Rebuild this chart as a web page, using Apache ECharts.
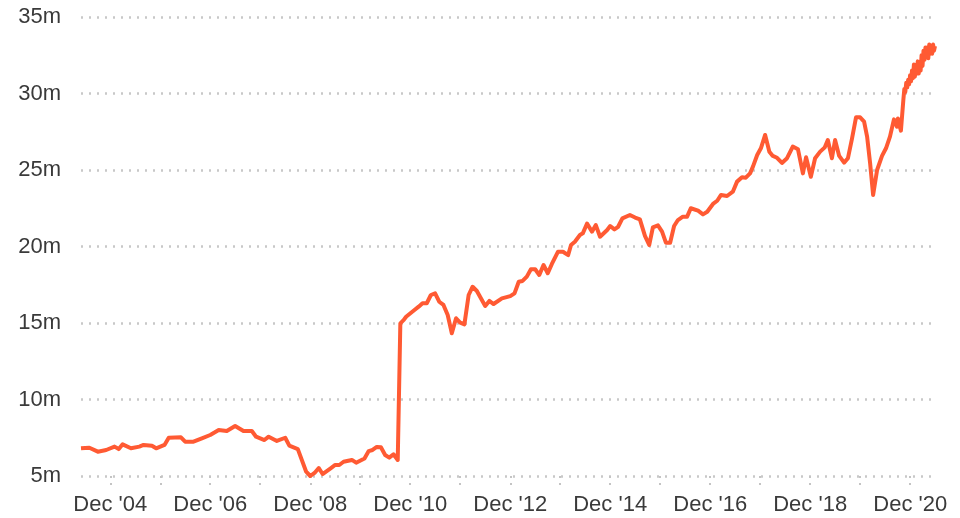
<!DOCTYPE html>
<html>
<head>
<meta charset="utf-8">
<script src="https://cdn.jsdelivr.net/npm/echarts@6/dist/echarts.min.js"></script>
<style>
  html, body { margin: 0; padding: 0; background: #fff; }
  #main { width: 960px; height: 518px; }
</style>
</head>
<body>
<div id="main"></div>
<script>
// dates of each reading (monthly, denser near the end)
var dates = [
  '2004-05-01','2004-07-01','2004-09-01','2004-11-01','2005-01-01','2005-02-01','2005-03-01','2005-05-01',
  '2005-07-01','2005-08-01','2005-10-01','2005-11-01','2006-01-01','2006-02-01','2006-05-01','2006-06-01',
  '2006-08-01','2006-10-01','2006-12-01','2007-02-01','2007-04-01','2007-06-01','2007-08-01','2007-10-01',
  '2007-11-01','2008-01-01','2008-02-01','2008-04-01','2008-06-01','2008-07-01','2008-09-01','2008-11-01',
  '2008-12-01','2009-01-01','2009-02-01','2009-03-01','2009-05-01','2009-06-01','2009-07-01','2009-08-01',
  '2009-10-01','2009-11-01','2010-01-01','2010-02-01','2010-03-01','2010-04-01','2010-05-01','2010-06-01',
  '2010-07-01','2010-08-01','2010-09-01','2010-09-20','2010-10-15','2010-11-01','2011-01-01','2011-02-01',
  '2011-03-01','2011-04-01','2011-05-01','2011-06-01','2011-07-01','2011-08-01','2011-09-01','2011-10-01',
  '2011-11-01','2011-12-01','2012-01-01','2012-02-01','2012-03-01','2012-04-01','2012-06-01','2012-07-01',
  '2012-08-01','2012-10-01','2012-12-01','2013-01-01','2013-02-01','2013-03-01','2013-04-01','2013-05-01',
  '2013-06-01','2013-07-01','2013-08-01','2013-09-01','2013-10-01','2013-11-15','2013-12-21','2014-01-28',
  '2014-02-18','2014-03-18','2014-04-24','2014-05-15','2014-06-15','2014-07-21','2014-08-18','2014-09-18',
  '2014-11-09','2014-12-01','2015-01-01','2015-01-28','2015-02-28','2015-04-24','2015-06-01','2015-07-06',
  '2015-08-12','2015-09-12','2015-10-09','2015-11-15','2015-12-15','2016-01-12','2016-02-12','2016-03-12',
  '2016-04-09','2016-05-15','2016-06-15','2016-07-12','2016-09-03','2016-10-09','2016-11-09','2016-12-21',
  '2017-01-21','2017-02-18','2017-04-03','2017-05-15','2017-06-15','2017-07-21','2017-08-18','2017-09-18',
  '2017-10-09','2017-11-09','2017-12-06','2018-01-06','2018-02-06','2018-03-03','2018-04-03','2018-05-09',
  '2018-06-15','2018-07-27','2018-09-03','2018-10-09','2018-11-01','2018-12-06','2019-01-06','2019-02-12',
  '2019-03-18','2019-04-09','2019-05-09','2019-06-01','2019-07-01','2019-08-06','2019-09-03','2019-10-03',
  '2019-11-01','2019-12-01','2019-12-30','2020-01-21','2020-02-12','2020-03-05','2020-04-03','2020-05-09',
  '2020-06-07','2020-07-06','2020-08-04','2020-08-26','2020-09-02','2020-09-24','2020-10-08',
  '2020-10-12','2020-10-19','2020-10-26','2020-11-02','2020-11-09','2020-11-16','2020-11-23','2020-11-30',
  '2020-12-07','2020-12-14','2020-12-21','2020-12-28','2021-01-04','2021-01-11','2021-01-18','2021-01-25',
  '2021-02-01','2021-02-08','2021-02-15','2021-02-22','2021-03-01','2021-03-08','2021-03-15','2021-03-22',
  '2021-03-29','2021-04-05','2021-04-12','2021-04-19','2021-04-26','2021-05-03','2021-05-10','2021-05-17',
  '2021-05-24','2021-05-31'
];

// values in millions
var values = [
  6.81, 6.85, 6.59, 6.70, 6.92, 6.76, 7.07, 6.81,
  6.92, 7.03, 6.98, 6.81, 7.03, 7.50, 7.53, 7.24,
  7.24, 7.46, 7.68, 8.00, 7.94, 8.27, 7.94, 7.94,
  7.57, 7.35, 7.57, 7.29, 7.50, 6.98, 6.76, 5.28,
  5.00, 5.20, 5.52, 5.13, 5.52, 5.72, 5.72, 5.93,
  6.05, 5.87, 6.15, 6.63, 6.70, 6.90, 6.88, 6.37,
  6.20, 6.42, 6.05, 14.98, 15.20, 15.41, 15.85, 16.07,
  16.29, 16.29, 16.83, 16.94, 16.39, 16.18, 15.52, 14.33,
  15.31, 15.02, 14.91, 16.83, 17.37, 17.09, 16.11, 16.44,
  16.24, 16.61, 16.76, 16.94, 17.70, 17.75, 18.03, 18.51,
  18.51, 18.14, 18.79, 18.25, 18.86, 19.66, 19.66, 19.44,
  20.10, 20.31, 20.75, 20.86, 21.50, 20.97, 21.40, 20.64,
  21.08, 21.34, 21.12, 21.29, 21.84, 22.06, 21.89, 21.77,
  20.70, 20.10, 21.25, 21.38, 20.97, 20.25, 20.25, 21.34,
  21.73, 21.95, 21.95, 22.50, 22.34, 22.10, 22.27, 22.78,
  22.99, 23.37, 23.30, 23.58, 24.24, 24.52, 24.50, 24.78,
  25.22, 25.98, 26.42, 27.29, 26.20, 25.92, 25.80, 25.46,
  25.77, 26.53, 26.35, 24.78, 25.83, 24.56, 25.77, 26.20,
  26.48, 26.96, 25.77, 26.96, 25.92, 25.48, 25.77, 27.07,
  28.44, 28.44, 28.16, 27.18, 25.44, 23.37, 25.00, 25.92,
  26.42, 27.18, 28.31, 27.83, 28.37, 27.57, 27.61,
  29.6, 30.3, 30.1, 30.7, 30.4, 30.9, 30.6, 31.2,
  30.8, 31.5, 31.0, 31.9, 31.1, 31.8, 31.3, 32.1,
  31.3, 31.9, 31.5, 32.5, 31.8, 32.8, 32.2, 33.0,
  32.4, 33.0, 32.3, 33.2, 32.6, 33.1, 32.6, 33.2,
  32.8, 33.1
];

// yearly december ticks, labels on the even years
var tickDates = ['2004-12-01','2005-12-01','2006-12-01','2007-12-01','2008-12-01','2009-12-01',
  '2010-12-01','2011-12-01','2012-12-01','2013-12-01','2014-12-01','2015-12-01','2016-12-01',
  '2017-12-01','2018-12-01','2019-12-01','2020-12-01'];
var labelDates = ['2004-12-01','2006-12-01','2008-12-01','2010-12-01','2012-12-01','2014-12-01',
  '2016-12-01','2018-12-01','2020-12-01'];

function ts(s) {
  var p = s.split('-');
  return Date.UTC(+p[0], +p[1] - 1, +p[2]);
}

var seriesData = dates.map(function (d, i) { return [ts(d), values[i]]; });

var myChart = echarts.init(document.getElementById('main'));
var font = "'Liberation Sans', Arial, sans-serif";

var option = {
  animation: false,
  grid: { left: 81, right: 25, top: 17, bottom: 42, containLabel: false },
  xAxis: {
    type: 'value',
    min: ts('2004-05-01'),
    max: ts('2021-05-31'),
    axisLine: { show: false },
    splitLine: { show: false },
    axisTick: {
      show: true,
      length: 14,
      customValues: tickDates.map(ts),
      lineStyle: { color: '#c4c4c4', width: 2, type: [2, 5] }
    },
    axisLabel: {
      customValues: labelDates.map(ts),
      margin: 18,
      fontSize: 22,
      color: '#3a3a3a',
      fontFamily: font,
      formatter: function (v) {
        var y = new Date(v).getUTCFullYear();
        return "Dec '" + String(y).slice(2);
      }
    }
  },
  yAxis: {
    type: 'value',
    min: 5,
    max: 35,
    interval: 5,
    axisLine: { show: false },
    axisTick: { show: false },
    axisLabel: {
      margin: 20,
      fontSize: 22,
      color: '#3a3a3a',
      fontFamily: font,
      formatter: function (v) { return v + 'm'; }
    },
    splitLine: {
      lineStyle: { color: '#c8c8c8', width: 2.5, type: [2, 6] }
    }
  },
  series: [{
    type: 'line',
    data: seriesData,
    showSymbol: false,
    symbol: 'none',
    lineStyle: { color: '#ff5a33', width: 4, join: 'round' },
    z: 3
  }]
};
myChart.setOption(option);
</script>
</body>
</html>
